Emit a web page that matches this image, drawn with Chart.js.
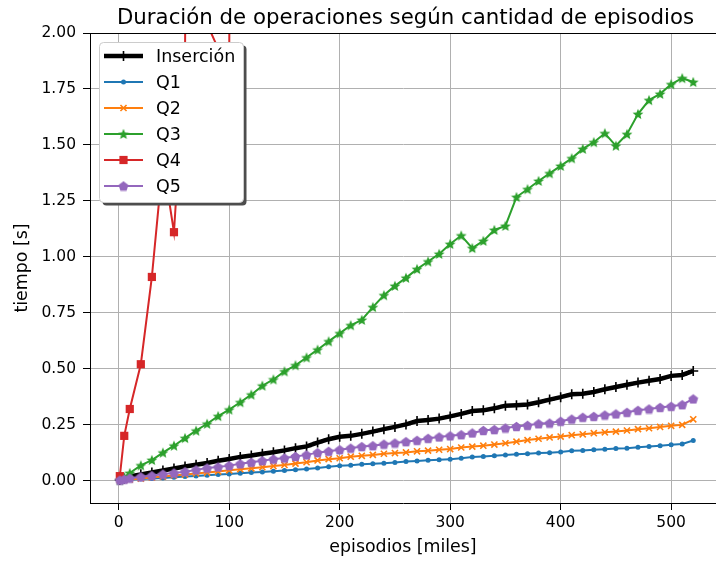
<!DOCTYPE html>
<html>
<head>
<meta charset="utf-8">
<script src="https://cdn.jsdelivr.net/npm/chart.js@4.4.0/dist/chart.umd.min.js"></script>
<style>
    html, body { margin: 0; padding: 0; background: #fff; overflow: hidden; }
    #chart { display: block; }
</style>
</head>
<body>
<canvas id="chart" width="716" height="562"></canvas>
<script>
(function () {
    'use strict';

    // episodios [miles]
    const EPISODES = [1, 5, 10, 20, 30, 40, 50, 60, 70, 80, 90, 100, 110, 120, 130, 140, 150, 160, 170, 180,
        190, 200, 210, 220, 230, 240, 250, 260, 270, 280, 290, 300, 310, 320, 330, 340, 350, 360, 370, 380,
        390, 400, 410, 420, 430, 440, 450, 460, 470, 480, 490, 500, 510, 520];

    const INSERCION = [0.003, 0.008, 0.019, 0.028, 0.036, 0.045, 0.054, 0.063, 0.071, 0.079,
        0.089, 0.097, 0.106, 0.112, 0.120, 0.127, 0.135, 0.145, 0.153, 0.170,
        0.185, 0.196, 0.200, 0.209, 0.219, 0.230, 0.240, 0.251, 0.266, 0.271,
        0.277, 0.287, 0.298, 0.311, 0.314, 0.323, 0.335, 0.337, 0.340, 0.350,
        0.362, 0.373, 0.386, 0.388, 0.396, 0.408, 0.418, 0.428, 0.438, 0.446,
        0.454, 0.468, 0.472, 0.490];

    const Q1 = [0.001, 0.002, 0.004, 0.007, 0.009, 0.012, 0.015, 0.018, 0.021, 0.024,
        0.027, 0.030, 0.033, 0.036, 0.039, 0.042, 0.045, 0.049, 0.052, 0.056,
        0.062, 0.066, 0.069, 0.073, 0.075, 0.078, 0.081, 0.085, 0.088, 0.091,
        0.093, 0.096, 0.100, 0.105, 0.108, 0.111, 0.115, 0.118, 0.120, 0.123,
        0.125, 0.128, 0.133, 0.135, 0.138, 0.140, 0.143, 0.145, 0.149, 0.152,
        0.156, 0.160, 0.164, 0.179];

    const Q2 = [0.001, 0.003, 0.005, 0.009, 0.014, 0.018, 0.023, 0.027, 0.032, 0.036,
        0.041, 0.046, 0.051, 0.055, 0.060, 0.065, 0.070, 0.076, 0.082, 0.090,
        0.096, 0.100, 0.107, 0.111, 0.115, 0.120, 0.123, 0.126, 0.131, 0.134,
        0.138, 0.141, 0.148, 0.152, 0.156, 0.161, 0.167, 0.174, 0.181, 0.187,
        0.193, 0.197, 0.203, 0.207, 0.212, 0.216, 0.219, 0.224, 0.230, 0.234,
        0.240, 0.245, 0.249, 0.274];

    const Q3 = [0.002, 0.016, 0.034, 0.068, 0.092, 0.125, 0.156, 0.190, 0.223, 0.254,
        0.288, 0.317, 0.350, 0.384, 0.424, 0.452, 0.488, 0.515, 0.550, 0.585,
        0.622, 0.658, 0.694, 0.718, 0.775, 0.828, 0.870, 0.906, 0.945, 0.979,
        1.013, 1.057, 1.095, 1.039, 1.071, 1.120, 1.138, 1.267, 1.302, 1.339,
        1.373, 1.406, 1.440, 1.482, 1.512, 1.552, 1.496, 1.548, 1.638, 1.700,
        1.728, 1.771, 1.798, 1.781];

    // Q4 se sale del gráfico a partir de ~110 mil episodios
    const Q4 = [0.02, 0.20, 0.32, 0.52, 0.91, 1.43, 1.11, 1.90, 9.5, 2.04,
        1.93, 1.90, 11.2, 12.0, 12.9, 13.6, 14.8, 15.5, 16.7, 17.4,
        18.9, 19.6, 21.0, 22.3, 23.1, 24.8, 25.6, 27.2, 28.5, 29.4,
        31.2, 32.6, 33.9, 35.8, 36.7, 38.5, 40.1, 41.3, 43.2, 44.6,
        46.5, 48.1, 49.7, 51.6, 53.0, 55.2, 56.9, 58.4, 60.7, 62.3,
        64.5, 66.2, 68.0, 70.3];

    const Q5 = [0.002, 0.006, 0.011, 0.017, 0.022, 0.029, 0.034, 0.040, 0.048, 0.056,
        0.061, 0.067, 0.075, 0.082, 0.089, 0.096, 0.101, 0.108, 0.115, 0.125,
        0.131, 0.138, 0.145, 0.152, 0.156, 0.163, 0.168, 0.174, 0.180, 0.189,
        0.195, 0.200, 0.205, 0.213, 0.224, 0.228, 0.235, 0.242, 0.247, 0.254,
        0.257, 0.265, 0.275, 0.283, 0.287, 0.293, 0.298, 0.305, 0.314, 0.320,
        0.327, 0.332, 0.339, 0.365];

    const X_TICKS = [0, 100, 200, 300, 400, 500];
    const Y_TICKS = [0, 0.25, 0.5, 0.75, 1, 1.25, 1.5, 1.75, 2];

    const TITLE = 'Duración de operaciones según cantidad de episodios';
    const FONT = 'DejaVu Sans';

    const COLORS = {
        black: '#000000',
        blue: '#1f77b4',
        orange: '#ff7f0e',
        green: '#2ca02c',
        red: '#d62728',
        purple: '#9467bd'
    };

    /** Marcadores rellenos que Chart.js no trae (estrella y pentágono) */
    function makeMarker(kind, size, color) {
        const c = document.createElement('canvas');
        c.width = size;
        c.height = size;
        const g = c.getContext('2d');
        const cx = size / 2, cy = size / 2, r = size / 2 - 0.3;
        g.beginPath();
        if (kind === 'star') {
            for (let i = 0; i < 10; i++) {
                const a = -Math.PI / 2 + i * Math.PI / 5;
                const rr = i % 2 ? r * 0.45 : r;
                g.lineTo(cx + rr * Math.cos(a), cy + rr * Math.sin(a) + r * 0.08);
            }
        } else {
            for (let i = 0; i < 5; i++) {
                const a = -Math.PI / 2 + i * 2 * Math.PI / 5;
                g.lineTo(cx + r * Math.cos(a), cy + r * Math.sin(a) + r * 0.1);
            }
        }
        g.closePath();
        g.fillStyle = color;
        g.fill();
        return c;
    }

    const starMarker = makeMarker('star', 12, COLORS.green);
    const pentagonMarker = makeMarker('pentagon', 11, COLORS.purple);

    const toPoints = values => EPISODES.map((x, i) => ({ x, y: values[i] }));

    function series(label, values, color, extra) {
        return Object.assign({
            label,
            data: toPoints(values),
            borderColor: color,
            backgroundColor: color,
            pointBorderColor: color,
            pointBackgroundColor: color,
            borderWidth: 2,
            tension: 0,
            clip: 0
        }, extra);
    }

    const datasets = [
        series('Inserción', INSERCION, COLORS.black, { borderWidth: 4.5, pointStyle: 'cross', pointRadius: 5, pointBorderWidth: 1.6, order: 5 }),
        series('Q1', Q1, COLORS.blue, { pointStyle: 'circle', pointRadius: 2.5, pointBorderWidth: 0, order: 4 }),
        series('Q2', Q2, COLORS.orange, { pointStyle: 'crossRot', pointRadius: 4.3, pointBorderWidth: 1.6, order: 3 }),
        series('Q3', Q3, COLORS.green, { pointStyle: starMarker, pointRadius: 5, pointBorderWidth: 0, order: 2 }),
        series('Q4', Q4, COLORS.red, { pointStyle: 'rect', pointRadius: 5.8, pointBorderWidth: 0, order: 1 }),
        series('Q5', Q5, COLORS.purple, { pointStyle: pentagonMarker, pointRadius: 5, pointBorderWidth: 0, order: 0 })
    ];

    /** Título, borde superior y leyenda con sombra dentro del área */
    const framePlugin = {
        id: 'frame',
        afterDraw(chart) {
            const ctx = chart.ctx;
            const area = chart.chartArea;
            ctx.save();

            // borde superior
            ctx.strokeStyle = '#000';
            ctx.lineWidth = 1;
            ctx.beginPath();
            ctx.moveTo(area.left, area.top + 0.5);
            ctx.lineTo(area.right, area.top + 0.5);
            ctx.stroke();

            // título centrado sobre los ejes
            ctx.fillStyle = '#000';
            ctx.font = '21.3px "' + FONT + '"';
            ctx.textAlign = 'center';
            ctx.textBaseline = 'alphabetic';
            ctx.fillText(TITLE, 405.5, 24);

            // leyenda
            const x0 = 99.5, y0 = 42.5, w = 144, h = 160, rad = 4;
            ctx.fillStyle = '#4d4d4d';
            ctx.beginPath();
            ctx.roundRect(x0 + 3, y0 + 3, w, h, rad);
            ctx.fill();
            ctx.fillStyle = '#fff';
            ctx.strokeStyle = '#cccccc';
            ctx.beginPath();
            ctx.roundRect(x0, y0, w, h, rad);
            ctx.fill();
            ctx.stroke();

            chart.data.datasets.forEach((ds, i) => {
                const cy = 56 + i * 26;
                ctx.strokeStyle = ds.borderColor;
                ctx.lineWidth = ds.borderWidth;
                ctx.beginPath();
                ctx.moveTo(104, cy);
                ctx.lineTo(143, cy);
                ctx.stroke();

                ctx.fillStyle = ds.borderColor;
                ctx.strokeStyle = ds.borderColor;
                ctx.lineWidth = ds.pointBorderWidth;
                Chart.helpers.drawPoint(ctx, {
                    pointStyle: ds.pointStyle,
                    rotation: 0,
                    radius: ds.pointRadius,
                    borderWidth: ds.pointBorderWidth
                }, 123.5, cy);

                ctx.fillStyle = '#000';
                ctx.font = '17.5px "' + FONT + '"';
                ctx.textAlign = 'left';
                ctx.textBaseline = 'middle';
                ctx.fillText(ds.label, 156, cy + 1);
            });
            ctx.restore();
        }
    };

    // tamaños fijos de ejes, sin el relleno automático de Chart.js
    function fixX(s) {
        s.height = 59;
        s.paddingLeft = 0;
        s.paddingRight = 0;
    }

    function fixY(s) {
        s.width = 90;
        s.paddingTop = 0;
        s.paddingBottom = 0;
    }

    new Chart(document.getElementById('chart'), {
        type: 'line',
        data: { datasets },
        options: {
            responsive: false,
            animation: false,
            layout: { autoPadding: false, padding: { top: 33, left: 0, right: 0, bottom: 0 } },
            plugins: {
                legend: { display: false },
                title: { display: false },
                tooltip: { enabled: false }
            },
            scales: {
                x: {
                    type: 'linear',
                    min: -26,
                    max: 540.6,
                    afterBuildTicks: s => { s.ticks = X_TICKS.map(v => ({ value: v })); },
                    afterFit: fixX,
                    grid: { color: '#b0b0b0', lineWidth: 1, tickColor: '#000', tickLength: 7, drawTicks: true },
                    border: { color: '#000', width: 1 },
                    ticks: {
                        color: '#000',
                        font: { family: FONT, size: 15.5 },
                        padding: 4,
                        maxRotation: 0,
                        callback: v => String(v)
                    },
                    title: {
                        display: true,
                        text: 'episodios [miles]',
                        color: '#000',
                        font: { family: FONT, size: 17.4 },
                        padding: { top: 0, bottom: 4 }
                    }
                },
                y: {
                    type: 'linear',
                    min: -0.1,
                    max: 2,
                    afterBuildTicks: s => { s.ticks = Y_TICKS.map(v => ({ value: v })); },
                    afterFit: fixY,
                    grid: { color: '#b0b0b0', lineWidth: 1, tickColor: '#000', tickLength: 7, drawTicks: true },
                    border: { color: '#000', width: 1 },
                    ticks: {
                        color: '#000',
                        font: { family: FONT, size: 15.5 },
                        padding: 7,
                        callback: v => v.toFixed(2)
                    },
                    title: {
                        display: true,
                        text: 'tiempo [s]',
                        color: '#000',
                        font: { family: FONT, size: 17.4 },
                        padding: { top: 12, bottom: 0 }
                    }
                }
            }
        },
        plugins: [framePlugin]
    });
})();
</script>
</body>
</html>
